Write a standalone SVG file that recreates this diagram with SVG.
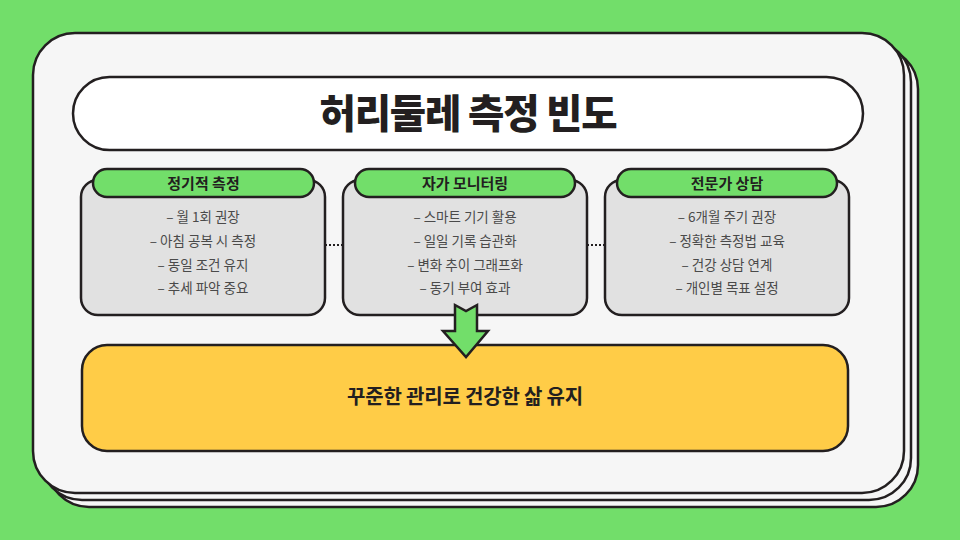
<svg xmlns="http://www.w3.org/2000/svg" width="960" height="540" viewBox="0 0 960 540">
<style>
.ln{stroke:#231f20;stroke-width:2.5}
.sheet{fill:#f6f6f6}
.card{fill:#e1e1e1}
.hdr{fill:#72de6a}
.ht{font-family:"Noto Sans CJK KR","Noto Sans",sans-serif;font-weight:700;font-size:15px;fill:#231f20;text-anchor:middle}
.bt{font-family:"Noto Sans CJK KR","Noto Sans",sans-serif;font-size:13.5px;fill:#4a4a4a;text-anchor:middle}
</style>
<rect width="960" height="540" fill="#72de6a"/>
<g id="background-sheets">
<rect x="47" y="47" width="871" height="460" rx="42" class="sheet ln"/>
<rect x="40" y="40" width="871" height="460" rx="42" class="sheet ln"/>
<rect x="33" y="33" width="871" height="460" rx="42" class="sheet ln"/>
</g>
<g id="title">
<rect x="73" y="77" width="790" height="73" rx="36.5" fill="#ffffff" class="ln"/>
<text x="468" y="128" font-family="'Noto Sans CJK KR','Noto Sans',sans-serif" font-weight="900" font-size="39.5" letter-spacing="-1.2" fill="#231f20" text-anchor="middle">허리둘레 측정 빈도</text>
</g>
<g id="connectors">
<line x1="325" y1="245" x2="343" y2="245" stroke="#231f20" stroke-width="2" stroke-dasharray="2 2"/>
<line x1="587" y1="245" x2="605" y2="245" stroke="#231f20" stroke-width="2" stroke-dasharray="2 2"/>
</g>
<g id="card-regular">
<rect x="81" y="180" width="244" height="135" rx="17" class="card ln"/>
<rect x="93" y="169" width="221" height="28" rx="14" class="hdr ln"/>
<text x="203.5" y="188.5" class="ht">정기적 측정</text>
<text x="203" y="222" class="bt">– 월 1회 권장</text>
<text x="203" y="246" class="bt">– 아침 공복 시 측정</text>
<text x="203" y="270" class="bt">– 동일 조건 유지</text>
<text x="203" y="293" class="bt">– 추세 파악 중요</text>
</g>
<g id="card-self">
<rect x="343" y="180" width="244" height="135" rx="17" class="card ln"/>
<rect x="355" y="169" width="220" height="28" rx="14" class="hdr ln"/>
<text x="465" y="188.5" class="ht">자가 모니터링</text>
<text x="465" y="222" class="bt">– 스마트 기기 활용</text>
<text x="465" y="246" class="bt">– 일일 기록 습관화</text>
<text x="465" y="270" class="bt">– 변화 추이 그래프화</text>
<text x="465" y="293" class="bt">– 동기 부여 효과</text>
</g>
<g id="card-expert">
<rect x="605" y="180" width="244" height="135" rx="17" class="card ln"/>
<rect x="617" y="169" width="220" height="28" rx="14" class="hdr ln"/>
<text x="727" y="188.5" class="ht">전문가 상담</text>
<text x="727" y="222" class="bt">– 6개월 주기 권장</text>
<text x="727" y="246" class="bt">– 정확한 측정법 교육</text>
<text x="727" y="270" class="bt">– 건강 상담 연계</text>
<text x="727" y="293" class="bt">– 개인별 목표 설정</text>
</g>
<g id="result">
<rect x="82" y="345" width="766" height="106" rx="25" fill="#ffcc47" class="ln"/>
<text x="465" y="404" font-family="'Noto Sans CJK KR','Noto Sans',sans-serif" font-weight="700" font-size="20" letter-spacing="-0.2" fill="#231f20" text-anchor="middle">꾸준한 관리로 건강한 삶 유지</text>
</g>
<g id="arrow">
<polygon points="455,305 466,311 477,305 477,331 488,331 466,357 443,331 455,331" fill="#72de6a" class="ln" stroke-linejoin="miter"/>
</g>
</svg>
